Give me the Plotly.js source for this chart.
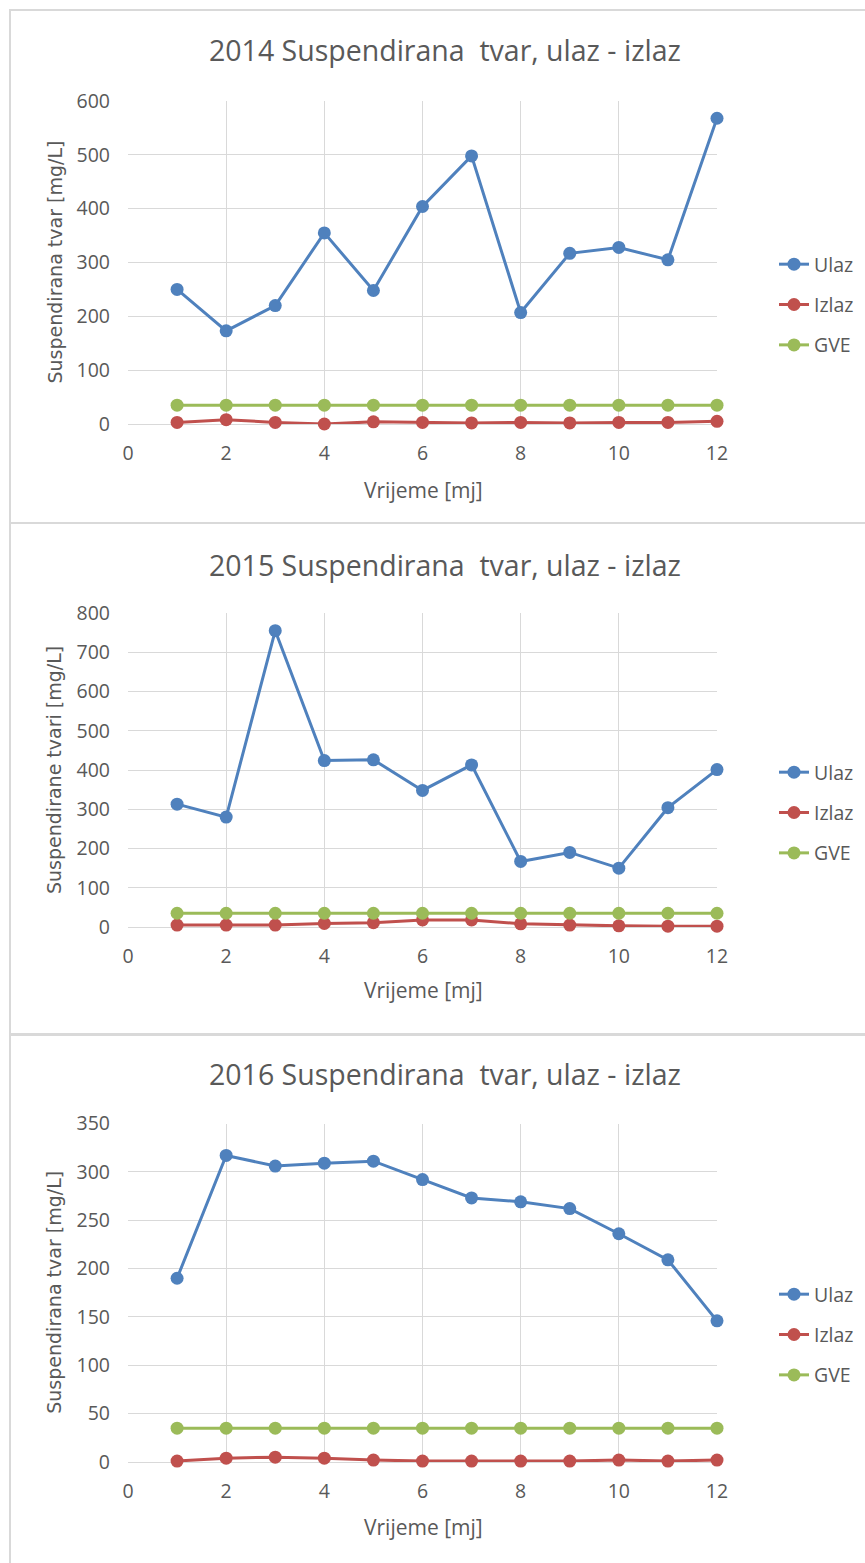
<!DOCTYPE html>
<html>
<head>
<meta charset="utf-8">
<script src="https://cdn.plot.ly/plotly-3.0.1.min.js"></script>
<style>
html,body{margin:0;padding:0;background:#fff;}
#chart{width:865px;height:1563px;}
</style>
</head>
<body>
<div id="chart"></div>
<script>
const months = [1,2,3,4,5,6,7,8,9,10,11,12];
const titles = ["2014 Suspendirana  tvar, ulaz - izlaz", "2015 Suspendirana  tvar, ulaz - izlaz", "2016 Suspendirana  tvar, ulaz - izlaz"];
const yTitles = ["Suspendirana tvar [mg/L]", "Suspendirane tvari [mg/L]", "Suspendirana tvar [mg/L]"];
const xTitle = "Vrijeme [mj]";
const seriesNames = ["Ulaz", "Izlaz", "GVE"];

const ulaz2014 = [250, 173, 220, 355, 248, 404, 498, 207, 317, 328, 305, 568];
const izlaz2014 = [3, 8, 3, 0, 4, 3, 2, 3, 2, 3, 3, 5];
const gve2014 = [35, 35, 35, 35, 35, 35, 35, 35, 35, 35, 35, 35];

const ulaz2015 = [313, 280, 755, 424, 426, 348, 413, 167, 190, 150, 304, 401];
const izlaz2015 = [5, 5, 5, 9, 11, 18, 18, 8, 5, 3, 2, 2];
const gve2015 = [35, 35, 35, 35, 35, 35, 35, 35, 35, 35, 35, 35];

const ulaz2016 = [190, 317, 306, 309, 311, 292, 273, 269, 262, 236, 209, 146];
const izlaz2016 = [1, 4, 5, 4, 2, 1, 1, 1, 1, 2, 1, 2];
const gve2016 = [35, 35, 35, 35, 35, 35, 35, 35, 35, 35, 35, 35];

const yMax = [600, 800, 350];
const yStep = [100, 100, 50];

const W = 865, H = 1563;
const colors = ["#4f81bd", "#c0504d", "#9bbb59"];
const textColor = "#595959";
const gridColor = "#d9d9d9";
const fontMain = "'Open Sans', Lato, sans-serif";

// page pixel geometry of each panel
const geo = [
  {top:101, bottom:424, title:50, xtitle:490, legendTop:245, panelTop:10, panelBottom:523},
  {top:613, bottom:927, title:565, xtitle:990, legendTop:753, panelTop:523, panelBottom:1035},
  {top:1123.5, bottom:1462, title:1074, xtitle:1527, legendTop:1275, panelTop:1034, panelBottom:1575}
];
const xLeft = 128, xRight = 717;
const py = p => 1 - p / H;
const px = p => p / W;

const allData = [[ulaz2014, izlaz2014, gve2014],[ulaz2015, izlaz2015, gve2015],[ulaz2016, izlaz2016, gve2016]];

const traces = [];
const layout = {
  width: W, height: H,
  margin: {l:0, r:0, t:0, b:0},
  paper_bgcolor: "#fff", plot_bgcolor: "#fff",
  showlegend: true,
  font: {family: fontMain, color: textColor, size: 16},
  annotations: [], shapes: []
};

for (let i = 0; i < 3; i++) {
  const sfx = i === 0 ? "" : String(i + 1);
  const g = geo[i];
  allData[i].forEach((vals, k) => {
    traces.push({
      x: months, y: vals, name: seriesNames[k],
      type: "scatter", mode: "lines+markers",
      xaxis: "x" + sfx, yaxis: "y" + sfx,
      legend: "legend" + sfx,
      legendgroup: "g" + i + k,
      line: {color: colors[k], width: 3},
      marker: {color: colors[k], size: 13},
      cliponaxis: false
    });
  });
  layout["xaxis" + sfx] = {
    domain: [px(xLeft), px(xRight)],
    anchor: "y" + sfx,
    range: [0, 12], dtick: 2, tick0: 0,
    showgrid: true, gridcolor: gridColor, gridwidth: 1,
    zeroline: false, showline: false, ticks: "",
    ticklabelstandoff: 15,
    tickfont: {family: fontMain, size: 19.5, color: textColor},
    fixedrange: true
  };
  layout["yaxis" + sfx] = {
    domain: [py(g.bottom), py(g.top)],
    anchor: "x" + sfx,
    range: [0, yMax[i]], dtick: yStep[i], tick0: 0,
    showgrid: true, gridcolor: gridColor, gridwidth: 1,
    zeroline: true, zerolinecolor: gridColor, zerolinewidth: 1,
    showline: false, ticks: "",
    ticklabelstandoff: 17,
    tickfont: {family: fontMain, size: 19.5, color: textColor},
    fixedrange: true
  };
  layout["legend" + sfx] = {
    x: px(774), y: py(g.legendTop), xanchor: "left", yanchor: "top",
    font: {family: fontMain, size: 19.5, color: textColor},
    tracegroupgap: 12, itemwidth: 30, bgcolor: "rgba(0,0,0,0)"
  };
  layout.annotations.push({
    xref: "paper", yref: "paper", x: px(445), y: py(g.title),
    xanchor: "center", yanchor: "middle", showarrow: false,
    text: titles[i], font: {family: fontMain, size: 28.5, color: textColor}
  });
  layout.annotations.push({
    xref: "paper", yref: "paper", x: px(423), y: py(g.xtitle),
    xanchor: "center", yanchor: "middle", showarrow: false,
    text: xTitle, font: {family: fontMain, size: 21, color: textColor}
  });
  layout.annotations.push({
    xref: "paper", yref: "paper", x: px(54), y: py((g.top + g.bottom) / 2),
    xanchor: "center", yanchor: "middle", showarrow: false, textangle: -90,
    text: yTitles[i], font: {family: "'DejaVu Sans', Verdana, sans-serif", size: 19, color: textColor}
  });
  layout.shapes.push({
    type: "rect", xref: "paper", yref: "paper",
    x0: px(10), x1: 1.1, y0: py(g.panelBottom), y1: py(g.panelTop),
    line: {color: "#d9d9d9", width: 2}, layer: "below"
  });
}

Plotly.newPlot("chart", traces, layout, {displayModeBar: false, staticPlot: true});
</script>
</body>
</html>
